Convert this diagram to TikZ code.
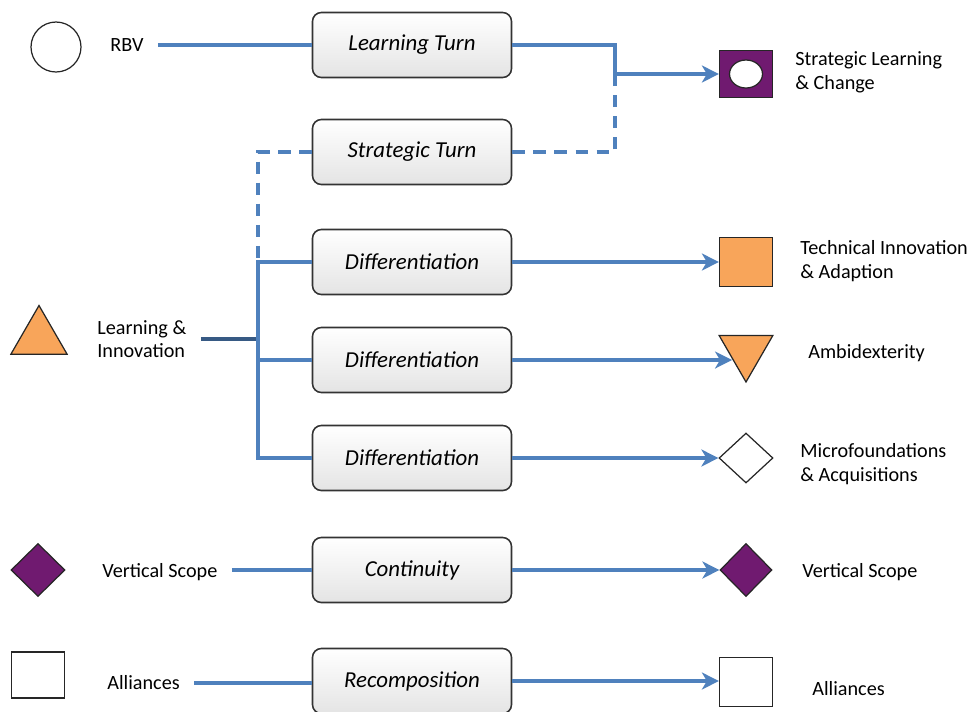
\documentclass[tikz,border=0pt]{standalone}
\usepackage{fontspec}
\setmainfont{Carlito}
\usepackage{tikz}
\usetikzlibrary{arrows.meta,shapes.geometric,positioning}

\definecolor{linkblue}{RGB}{79,129,189}
\definecolor{shapeorange}{RGB}{248,165,90}
\definecolor{shapepurple}{RGB}{112,26,112}
\definecolor{boxgray}{RGB}{228,228,228}

\begin{document}
\begin{tikzpicture}[
    x=0.02cm, y=-0.02cm,
    phase/.style={rectangle, rounded corners=5pt, draw=black!80, line width=0.9pt,
        top color=white, bottom color=boxgray, minimum width=3.98cm, minimum height=1.3cm,
        font=\fontsize{13}{15}\selectfont\itshape},
    label/.style={anchor=west, align=left, inner sep=0pt, font=\fontsize{11.5}{13.5}\selectfont},
    symb/.style={draw=black!85, line width=0.7pt, inner sep=0pt},
    link/.style={draw=linkblue, line width=2pt},
    dashlink/.style={link, dash pattern=on 7pt off 5pt},
    arrow/.style={link, -{Stealth[length=3.4mm, width=3.4mm, inset=1mm]}}
]
    \useasboundingbox (0,0) rectangle (973,711);

    % middle column
    \node[phase] (learn) at (412,45) {Learning Turn};
    \node[phase] (strat) at (412,152) {Strategic Turn};
    \node[phase] (dif1) at (412,262) {Differentiation};
    \node[phase] (dif2) at (412,360) {Differentiation};
    \node[phase] (dif3) at (412,458) {Differentiation};
    \node[phase] (cont) at (412,570) {Continuity};
    \node[phase] (recomp) at (412,681) {Recomposition};

    % left column
    \node[symb, circle, minimum size=1cm] (rbvsym) at (56,47) {};
    \node[label] (rbv) at (110,45) {RBV};
    \node[symb, regular polygon, regular polygon sides=3, minimum size=1.3cm,
        fill=shapeorange] (lisym) at (39,338) {};
    \node[label] (li) at (97,339) {Learning \&\\Innovation};
    \node[symb, diamond, minimum width=1.08cm, minimum height=1.06cm,
        fill=shapepurple] (vsleftsym) at (38,570) {};
    \node[label] (vsleft) at (102,572) {Vertical Scope};
    \node[symb, rectangle, minimum width=1.06cm, minimum height=0.92cm] (alleftsym) at (38,675) {};
    \node[label] (alleft) at (107,683) {Alliances};

    % right column
    \node[symb, rectangle, minimum width=1.06cm, minimum height=0.94cm,
        fill=shapepurple] (slc) at (746,74) {};
    \node[symb, ellipse, fill=white, minimum width=0.66cm, minimum height=0.56cm] at (slc) {};
    \node[label] (slctext) at (795,72) {Strategic Learning\\\& Change};
    \node[symb, rectangle, minimum width=1.06cm, minimum height=0.98cm,
        fill=shapeorange] (tia) at (746,262) {};
    \node[label] (tiatext) at (800,261) {Technical Innovation\\\& Adaption};
    \node[symb, regular polygon, regular polygon sides=3, shape border rotate=180,
        minimum size=1.24cm, fill=shapeorange] (amb) at (746,351) {};
    \node[label] (ambtext) at (808,353) {Ambidexterity};
    \node[symb, diamond, minimum width=1.08cm, minimum height=1.0cm] (mfa) at (746,458) {};
    \node[label] (mfatext) at (800,464) {Microfoundations\\\& Acquisitions};
    \node[symb, diamond, minimum width=1.04cm, minimum height=1.06cm,
        fill=shapepurple] (vsright) at (746,570) {};
    \node[label] (vsrighttext) at (802,572) {Vertical Scope};
    \node[symb, rectangle, minimum width=1.06cm, minimum height=0.98cm] (alright) at (746,682) {};
    \node[label] (alrighttext) at (812,689) {Alliances};

    % junctions
    \coordinate (jn) at (615,74);
    \coordinate (tr) at (258,262);

    % connectors
    \draw[link, shorten <=8pt] (rbv.east) -- (rbv.east -| learn.west);
    \draw[dashlink] (strat.east) -| (jn);
    \draw[dashlink] (strat.west) -| ([yshift=-30pt]tr);
    \draw[arrow] (learn.east) -| (jn) -- (slc.west);
    \draw[link, draw=linkblue!70!black, shorten <=8pt] (li.east) -- (li.east -| tr);
    \draw[link] (dif1.west) -- (tr) |- (dif3.west);
    \draw[link] (dif2.west) -- (dif2.west -| tr);
    \draw[arrow] (dif1.east) -- (tia.west);
    \draw[arrow] (dif2.east) -- (dif2.east -| amb.side 3);
    \draw[arrow] (dif3.east) -- (mfa.west);
    \draw[link, shorten <=8pt] (vsleft.east |- cont.west) -- (cont.west);
    \draw[arrow] (cont.east) -- (vsright.west);
    \draw[link, shorten <=8pt] (alleft.east) -- (alleft.east -| recomp.west);
    \draw[arrow] (recomp.east) -- (recomp.east -| alright.west);
\end{tikzpicture}
\end{document}
